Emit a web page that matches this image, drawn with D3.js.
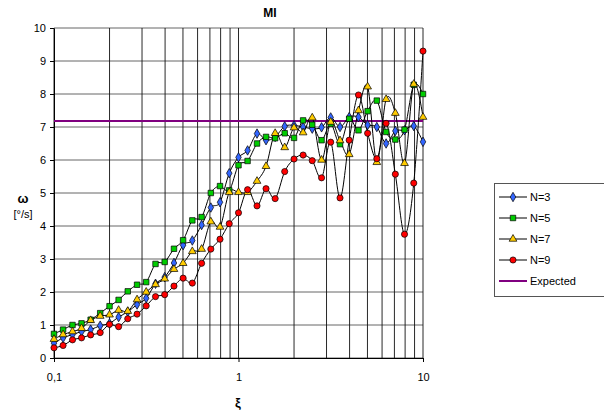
<!DOCTYPE html>
<html><head><meta charset="utf-8">
<script src="https://cdn.jsdelivr.net/npm/d3@7"></script>
<style>body{margin:0;background:#fff;font-family:"Liberation Sans",Arial,sans-serif}</style>
</head><body>
<script>
const xi = [0.1,0.112,0.126,0.141,0.158,0.178,0.2,0.224,0.251,0.282,0.316,0.355,0.398,0.447,0.501,0.562,0.631,0.708,0.794,0.891,1,1.12,1.26,1.41,1.58,1.78,2,2.24,2.51,2.82,3.16,3.55,3.98,4.47,5.01,5.62,6.31,7.08,7.94,8.91,10];
const n3 = [0.45,0.61,0.71,0.8,0.86,0.98,1.05,1.24,1.4,1.62,1.81,2.25,2.45,2.88,3.42,3.56,4.03,4.56,4.72,5.6,6.08,6.29,6.8,6.6,6.7,7.02,7.05,7.0,6.95,6.99,7.29,7.0,7.3,7.3,7.06,7.0,6.5,6.88,6.9,7.03,6.55];
const n5 = [0.73,0.86,1.0,1.05,1.16,1.36,1.57,1.76,2.02,2.22,2.3,2.85,2.91,3.31,3.57,4.17,4.27,5.0,5.21,5.08,5.84,5.97,6.5,6.7,6.66,6.81,6.67,7.2,7.07,6.6,7.1,6.48,7.25,6.9,7.48,7.8,6.85,6.62,6.92,8.28,8.0];
const n7 = [0.57,0.71,0.8,0.9,1.14,1.27,1.31,1.45,1.42,1.77,2.0,2.23,2.4,2.69,2.87,3.23,3.3,4.13,3.97,5.02,5.02,5.02,5.36,5.81,6.81,6.38,6.98,6.83,7.28,6.0,7.15,6.59,6.17,7.5,8.22,5.93,7.84,7.42,5.9,8.3,7.3];
const n9 = [0.31,0.38,0.55,0.61,0.7,0.77,1.02,0.95,1.19,1.33,1.58,1.86,1.92,2.18,2.42,2.27,2.87,3.3,3.6,4.07,4.4,5.1,4.61,5.13,4.83,5.65,6.03,6.15,5.98,5.46,6.54,4.85,6.6,7.97,6.81,6.04,7.11,5.57,3.75,5.3,9.3];
const expected = 7.18;
const yTicks = [0,1,2,3,4,5,6,7,8,9,10];
const xTickVals = [0.1,1,10];
const xTickLabels = ["0,1","1","10"];
const seriesNames = ["N=3","N=5","N=7","N=9"];

const W=604,H=416;
const svg=d3.select("body").append("svg").attr("width",W).attr("height",H);
const x=d3.scaleLog().domain([0.1,10]).range([54,423]);
const y=d3.scaleLinear().domain([0,10]).range([358,28]);

// gridlines
svg.append("g").selectAll("line").data(yTicks).join("line")
  .attr("x1",54).attr("x2",423).attr("y1",d=>y(d)).attr("y2",d=>y(d))
  .attr("stroke","#666").attr("stroke-width",1);
svg.append("g").selectAll("line").data(x.ticks()).join("line")
  .attr("x1",d=>x(d)).attr("x2",d=>x(d)).attr("y1",28).attr("y2",358)
  .attr("stroke","#111").attr("stroke-width",0.9);

// axes
const ax=svg.append("g").attr("transform","translate(0,358)")
  .call(d3.axisBottom(x).tickValues(xTickVals).tickFormat((d,i)=>xTickLabels[i]).tickSize(4).tickPadding(11).tickSizeOuter(0));
const ay=svg.append("g").attr("transform","translate(54,0)")
  .call(d3.axisLeft(y).tickValues(yTicks).tickSize(4).tickPadding(4).tickSizeOuter(0));
[ax,ay].forEach(g=>{g.selectAll("text").attr("font-size",11).attr("font-family","Liberation Sans, Arial, sans-serif").attr("fill","#000");
  g.selectAll("line,path").attr("stroke","#000");});

// expected line
svg.append("line").attr("x1",54).attr("x2",423).attr("y1",y(expected)).attr("y2",y(expected))
  .attr("stroke","#800080").attr("stroke-width",2);

const styles=[
  {data:n3,fill:"#3366ff",shape:d3.symbolDiamond,size:26},
  {data:n5,fill:"#00cc00",shape:d3.symbolSquare,size:30},
  {data:n7,fill:"#ffcc00",shape:d3.symbolTriangle,size:26},
  {data:n9,fill:"#ff0000",shape:d3.symbolCircle,size:30}
];
const line=d3.line().x((d,i)=>x(xi[i])).y(d=>y(d)).curve(d3.curveCardinal.tension(0));
styles.forEach(s=>{
  svg.append("path").attr("d",line(s.data)).attr("fill","none").attr("stroke","#000").attr("stroke-width",1);
});
styles.forEach(s=>{
  svg.append("g").selectAll("path").data(s.data).join("path")
    .attr("transform",(d,i)=>`translate(${x(xi[i])},${y(d)})`)
    .attr("d",d3.symbol().type(s.shape).size(s.size))
    .attr("fill",s.fill).attr("stroke","#000").attr("stroke-width",0.7);
});

// titles
svg.append("text").attr("x",270).attr("y",17).attr("text-anchor","middle").attr("font-size",12).attr("font-weight","bold").text("MI");
svg.append("text").attr("x",238).attr("y",407).attr("text-anchor","middle").attr("font-size",13).attr("font-weight","bold").text("ξ");
svg.append("text").attr("x",23).attr("y",203).attr("text-anchor","middle").attr("font-size",13).attr("font-weight","bold").text("ω");
svg.append("text").attr("x",23).attr("y",218).attr("text-anchor","middle").attr("font-size",11).text("[°/s]");

// legend
const lg=svg.append("g");
lg.append("rect").attr("x",494.5).attr("y",183.5).attr("width",115).attr("height",113).attr("fill","#fff").attr("stroke","#555");
const names=seriesNames.concat(["Expected"]);
names.forEach((nm,i)=>{
  const yy=197+i*21;
  const isExp=i===4;
  lg.append("line").attr("x1",499).attr("x2",527).attr("y1",yy).attr("y2",yy)
    .attr("stroke",isExp?"#800080":"#000").attr("stroke-width",isExp?2:1);
  if(!isExp){
    const s=styles[i];
    lg.append("path").attr("transform",`translate(513,${yy})`).attr("d",d3.symbol().type(s.shape).size(s.size))
      .attr("fill",s.fill).attr("stroke","#000").attr("stroke-width",0.7);
  }
  lg.append("text").attr("x",530).attr("y",yy+4).attr("font-size",11).text(nm);
});
</script>
</body></html>
